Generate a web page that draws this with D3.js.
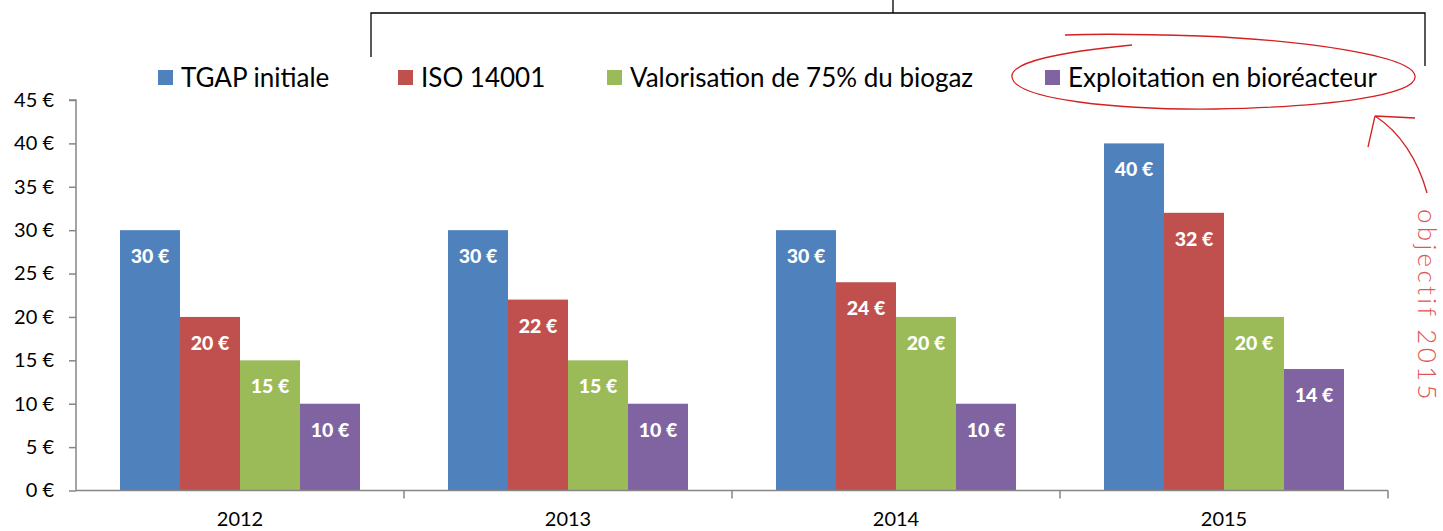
<!DOCTYPE html>
<html><head><meta charset="utf-8">
<script src="https://cdn.jsdelivr.net/npm/d3@7"></script>
<style>
html,body{margin:0;padding:0;background:#fff;}
svg{display:block;font-family:Lato,"Open Sans",sans-serif;}
</style></head>
<body>
<svg id="chart" width="1443" height="531"></svg>
<script>
const years = ["2012","2013","2014","2015"];
const seriesNames = ["TGAP initiale","ISO 14001","Valorisation de 75% du biogaz","Exploitation en bioréacteur"];
const tgap = [30,30,30,40];
const iso = [20,22,24,32];
const valorisation = [15,15,20,20];
const bioreacteur = [10,10,10,14];
const yTicks = [0,5,10,15,20,25,30,35,40,45];
const annotation = "objectif 2015";

const colors = ["#4F81BD","#C0504D","#9BBB59","#8064A2"];
const seriesValues = [tgap, iso, valorisation, bioreacteur];
const legendX = [158, 398, 607, 1045];

const svg = d3.select("#chart");
const pLeft = 76, pRight = 1388, pTop = 100, pBottom = 490.5;

const x0 = d3.scaleBand().domain(years).range([pLeft,pRight]).paddingInner(0).paddingOuter(0);
const groupPad = 44;
const x1 = d3.scaleBand().domain(d3.range(seriesNames.length))
  .range([groupPad, x0.bandwidth()-groupPad]).padding(0);
const y = d3.scaleLinear().domain([0,45]).range([pBottom, pTop]);

// bars
const rows = [];
years.forEach((yr,i)=>seriesValues.forEach((s,j)=>rows.push({yr, j, v:s[i]})));
svg.append("g").selectAll("rect").data(rows).join("rect")
  .attr("x", d=>x0(d.yr)+x1(d.j))
  .attr("y", d=>y(d.v))
  .attr("width", x1.bandwidth())
  .attr("height", d=>y(0)-y(d.v))
  .attr("fill", d=>colors[d.j]);

svg.append("g").selectAll("text").data(rows).join("text")
  .attr("x", d=>x0(d.yr)+x1(d.j)+x1.bandwidth()/2)
  .attr("y", d=>y(d.v)+33)
  .attr("text-anchor","middle")
  .attr("fill","#fff")
  .attr("font-weight","900")
  .attr("font-size","19.5px")
  .text(d=>d.v+" €");

// y axis
const yAxis = d3.axisLeft(y).tickValues(yTicks).tickSize(7).tickPadding(15).tickFormat(d=>d+" €");
const gy = svg.append("g").attr("transform",`translate(${pLeft},0)`).call(yAxis);
gy.select(".domain").attr("stroke","#868686").attr("stroke-width",1.5).attr("d",`M-7,${pTop}H0V${pBottom}`);
gy.selectAll(".tick line").attr("stroke","#868686").attr("stroke-width",1.5);
gy.selectAll(".tick text").attr("font-size","20px").attr("fill","#000").attr("font-family","Lato,sans-serif");

// x axis
const xAxis = d3.axisBottom(x0).tickSize(0).tickPadding(21);
const gx = svg.append("g").attr("transform",`translate(0,${pBottom})`).call(xAxis);
gx.select(".domain").attr("stroke","#868686").attr("stroke-width",1.5).attr("d",`M${pLeft},0H${pRight}`);
gx.selectAll(".tick text").attr("font-size","20px").attr("fill","#000").attr("font-family","Lato,sans-serif");
const boundaries = years.map(yr=>x0(yr)+x0.bandwidth());
svg.append("g").selectAll("line").data(boundaries).join("line")
  .attr("x1",d=>d).attr("x2",d=>d).attr("y1",pBottom).attr("y2",pBottom+8)
  .attr("stroke","#868686").attr("stroke-width",1.5);

// legend
const lg = svg.append("g").selectAll("g").data(seriesNames).join("g")
  .attr("transform",(d,i)=>`translate(${legendX[i]},70)`);
lg.append("rect").attr("width",15).attr("height",15).attr("fill",(d,i)=>colors[i]);
lg.append("text").attr("x",23).attr("y",16.5).attr("font-size","26px").attr("fill","#000").text(d=>d);

// bracket
svg.append("path").attr("d","M371,57V13H1425V66M893,0V13")
  .attr("fill","none").attr("stroke","#000").attr("stroke-width",1.3);

// hand drawn ellipse
const red = "#d42020";
svg.append("path")
  .attr("d","M1132,45 C1060,52 1010,62 1012,77 C1015,100 1120,110 1215,109 C1330,107 1418,95 1415,76 C1412,55 1300,40 1200,36 C1140,34 1090,34 1065,35")
  .attr("fill","none").attr("stroke",red).attr("stroke-width",1.3);
// arrow
svg.append("path")
  .attr("d","M1427,193 C1418,160 1400,132 1375,116 M1375,116 L1415,118 M1375,116 L1368,147")
  .attr("fill","none").attr("stroke",red).attr("stroke-width",1.3);
svg.append("text")
  .attr("transform","translate(1418,209) rotate(90)")
  .attr("font-size","26px").attr("font-weight","300")
  .attr("fill","#e05555").attr("letter-spacing","3.3")
  .text(annotation);
</script>
</body></html>
